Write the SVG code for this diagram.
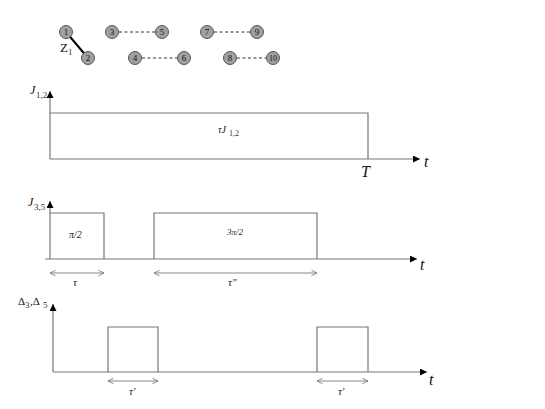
<svg xmlns="http://www.w3.org/2000/svg" width="545" height="409" viewBox="0 0 545 409">
<style>
.ax{stroke:#777;stroke-width:1.2;fill:none}
.sig{stroke:#777;stroke-width:1.2;fill:none}
.dim{stroke:#888;stroke-width:1;fill:none}
.nd{fill:#a0a0a0;stroke:#555;stroke-width:1}
.nl{font-family:"Liberation Serif",serif;font-size:9px;fill:#111;text-anchor:middle}
.lb{font-family:"Liberation Serif",serif;font-style:italic;font-size:12px;fill:#111}
.sm{font-family:"Liberation Serif",serif;font-style:italic;font-size:10px;fill:#222}
.sub{font-family:"Liberation Serif",serif;font-size:9px;fill:#333}
.big{font-family:"Liberation Serif",serif;font-style:italic;font-size:16px;fill:#111}
.dash{stroke:#333;stroke-width:1;stroke-dasharray:3,2.5}
</style>
<defs>
<marker id="ah" viewBox="0 0 10 10" refX="10" refY="5" markerWidth="7" markerHeight="7" markerUnits="userSpaceOnUse" orient="auto"><path d="M0,0 L10,5 L0,10 z" fill="#000"/></marker>
<marker id="oh" viewBox="0 0 10 10" refX="9" refY="5" markerWidth="7" markerHeight="7" markerUnits="userSpaceOnUse" orient="auto-start-reverse"><path d="M1,1 L9,5 L1,9" fill="none" stroke="#777" stroke-width="1.2"/></marker>
</defs>
<g id="connectors">
<line x1="66" y1="32" x2="88" y2="58" stroke="#000" stroke-width="2"/>
<line class="dash" x1="119" y1="32" x2="155" y2="32"/>
<line class="dash" x1="142" y1="58" x2="177" y2="58"/>
<line class="dash" x1="214" y1="32" x2="250" y2="32"/>
<line class="dash" x1="237" y1="58" x2="266" y2="58"/>
</g>
<g id="n1"><circle class="nd" cx="66" cy="32" r="6.5"/><text class="nl" x="66" y="35">1</text></g>
<g id="n2"><circle class="nd" cx="88" cy="58" r="6.5"/><text class="nl" x="88" y="61">2</text></g>
<g id="n3"><circle class="nd" cx="112" cy="32" r="6.5"/><text class="nl" x="112" y="35">3</text></g>
<g id="n5"><circle class="nd" cx="162" cy="32" r="6.5"/><text class="nl" x="162" y="35">5</text></g>
<g id="n4"><circle class="nd" cx="135" cy="58" r="6.5"/><text class="nl" x="135" y="61">4</text></g>
<g id="n6"><circle class="nd" cx="184" cy="58" r="6.5"/><text class="nl" x="184" y="61">6</text></g>
<g id="n7"><circle class="nd" cx="207" cy="32" r="6.5"/><text class="nl" x="207" y="35">7</text></g>
<g id="n9"><circle class="nd" cx="257" cy="32" r="6.5"/><text class="nl" x="257" y="35">9</text></g>
<g id="n8"><circle class="nd" cx="230" cy="58" r="6.5"/><text class="nl" x="230" y="61">8</text></g>
<g id="n10"><circle class="nd" cx="273" cy="58" r="6.5"/><text class="nl" x="273" y="61" style="font-size:8px">10</text></g>
<text x="60" y="52" style="font-family:'Liberation Serif',serif;font-size:13px;fill:#111">Z</text>
<text class="sub" x="68" y="55">1</text>

<g id="chart1">
<line class="ax" x1="50" y1="159" x2="50" y2="91" marker-end="url(#ah)"/>
<line class="ax" x1="50" y1="159" x2="420" y2="159" marker-end="url(#ah)"/>
<path class="sig" d="M50,113 H368 V159"/>
<text class="lb" x="30" y="94">J</text><text class="sub" x="36" y="98">1,2</text>
<text class="sm" x="218" y="133">τJ</text><text class="sub" x="229" y="136" style="font-size:8px">1,2</text>
<text class="big" x="361" y="177">T</text>
<text class="big" x="424" y="167">t</text>
</g>

<g id="chart2">
<line class="ax" x1="50" y1="259" x2="50" y2="201" marker-end="url(#ah)"/>
<line class="ax" x1="45" y1="259" x2="417" y2="259" marker-end="url(#ah)"/>
<path class="sig" d="M50,213 H104 V259"/>
<path class="sig" d="M154,259 V213 H317 V259"/>
<text class="lb" x="28" y="206">J</text><text class="sub" x="34" y="210">3,5</text>
<text class="sm" x="69" y="238">π/2</text>
<text class="sm" x="227" y="235" style="font-size:9px">3π/2</text>
<line class="dim" x1="50" y1="273" x2="104" y2="273" marker-start="url(#oh)" marker-end="url(#oh)"/>
<line class="dim" x1="154" y1="273" x2="317" y2="273" marker-start="url(#oh)" marker-end="url(#oh)"/>
<text class="sm" x="73" y="286" style="font-size:11px">τ</text>
<text class="sm" x="228" y="286" style="font-size:11px">τ"</text>
<text class="big" x="420" y="270">t</text>
</g>

<g id="chart3">
<line class="ax" x1="53" y1="372" x2="53" y2="304" marker-end="url(#ah)"/>
<line class="ax" x1="53" y1="372" x2="427" y2="372" marker-end="url(#ah)"/>
<path class="sig" d="M108,372 V327 H158 V372"/>
<path class="sig" d="M317,372 V327 H368 V372"/>
<text style="font-family:'Liberation Serif',serif;font-size:11px;fill:#111" x="18" y="305">Δ</text><text class="sub" x="25" y="308">3</text>
<text style="font-family:'Liberation Serif',serif;font-size:11px;fill:#111" x="30" y="305">,Δ</text><text class="sub" x="43" y="308">5</text>
<line class="dim" x1="108" y1="381" x2="158" y2="381" marker-start="url(#oh)" marker-end="url(#oh)"/>
<line class="dim" x1="317" y1="381" x2="368" y2="381" marker-start="url(#oh)" marker-end="url(#oh)"/>
<text class="sm" x="129" y="395" style="font-size:11px">τ'</text>
<text class="sm" x="338" y="395" style="font-size:11px">τ'</text>
<text class="big" x="429" y="385">t</text>
</g>
</svg>
